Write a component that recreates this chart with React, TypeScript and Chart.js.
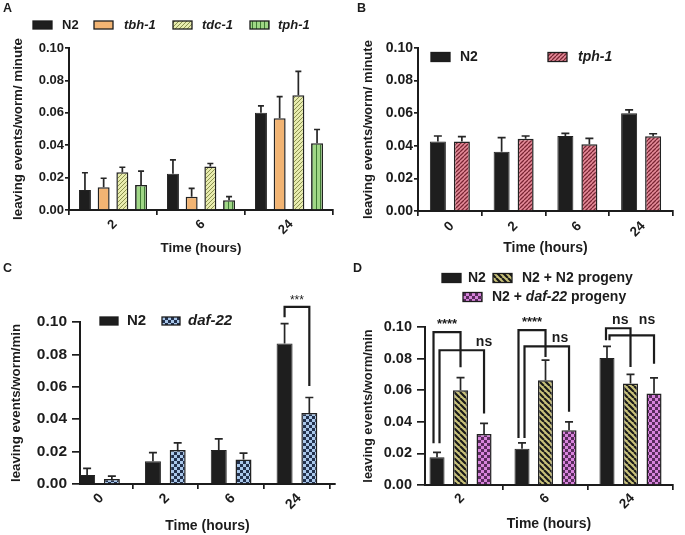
import React, { useEffect, useRef } from "react";
import { Chart, registerables } from "chart.js";
Chart.register(...registerables);

const FONT = "'Liberation Sans', Arial, Helvetica, sans-serif";
const INK = "#1c1c1c";
Chart.defaults.font.family = FONT;
Chart.defaults.color = INK;

// ---------- Panel A ----------
const timesA = ["2", "6", "24"];
const namesA = ["N2", "tbh-1", "tdc-1", "tph-1"];
const aN2 = [0.0124, 0.0223, 0.06];
const aN2Err = [0.0106, 0.0087, 0.0043];
const aTbh = [0.014, 0.0082, 0.0567];
const aTbhErr = [0.0056, 0.0052, 0.0133];
const aTdc = [0.0233, 0.0268, 0.0709];
const aTdcErr = [0.0031, 0.0019, 0.0147];
const aTph = [0.0155, 0.006, 0.0412];
const aTphErr = [0.0085, 0.0022, 0.0085];

// ---------- Panel B ----------
const timesB = ["0", "2", "6", "24"];
const namesB = ["N2", "tph-1"];
const bN2 = [0.0427, 0.0363, 0.046, 0.06];
const bN2Err = [0.0033, 0.0087, 0.0016, 0.002];
const bTph = [0.0427, 0.0444, 0.0409, 0.0458];
const bTphErr = [0.0029, 0.0016, 0.0037, 0.0016];

// ---------- Panel C ----------
const timesC = ["0", "2", "6", "24"];
const namesC = ["N2", "daf-22"];
const cN2 = [0.0056, 0.014, 0.021, 0.0867];
const cN2Err = [0.0041, 0.0054, 0.0069, 0.0123];
const cDaf = [0.0031, 0.021, 0.0151, 0.0439];
const cDafErr = [0.0017, 0.0044, 0.0039, 0.0095];

// ---------- Panel D ----------
const timesD = ["2", "6", "24"];
const namesD = ["N2", "N2 + N2 progeny", "N2 + daf-22 progeny"];
const dN2 = [0.0175, 0.023, 0.0804];
const dN2Err = [0.0031, 0.0037, 0.0074];
const dN2Prog = [0.06, 0.0663, 0.0642];
const dN2ProgErr = [0.008, 0.0127, 0.0058];
const dDafProg = [0.0322, 0.0347, 0.0579];
const dDafProgErr = [0.0068, 0.0053, 0.0099];

// significance annotations (values in y units)
const bracketsC = [
  { cat: 3, from: 0, to: 1, top: 0.1093, leftEnd: 0.103, rightEnd: 0.0605, label: "***", labelY: 0.111 },
];
const bracketsD = [
  { cat: 0, from: 0, to: 1, top: 0.0968, leftEnd: 0.0265, rightEnd: 0.0745, label: "****", labelY: 0.0995 },
  { cat: 0, from: 0, to: 2, top: 0.0853, leftEnd: 0.0265, rightEnd: 0.0453, label: "ns", labelY: 0.0881 },
  { cat: 1, from: 0, to: 1, top: 0.098, leftEnd: 0.0297, rightEnd: 0.081, label: "****", labelY: 0.1004 },
  { cat: 1, from: 0, to: 2, top: 0.0878, leftEnd: 0.0297, rightEnd: 0.0463, label: "ns", labelY: 0.0903 },
  { cat: 2, from: 0, to: 1, top: 0.0992, leftEnd: 0.0916, rightEnd: 0.0747, label: "ns", labelY: 0.102 },
  { cat: 2, from: 0, to: 2, top: 0.0947, leftEnd: 0.0916, rightEnd: 0.0768, label: "ns", labelY: 0.102 },
];

function makePattern(kind: string, bg: string, fg: string, p: number, lw: number): any {
  const c = document.createElement("canvas");
  const w = kind === "check" ? p * 2 : p;
  c.width = w;
  c.height = w;
  const g = c.getContext("2d")!;
  g.fillStyle = bg;
  g.fillRect(0, 0, w, w);
  g.strokeStyle = fg;
  g.fillStyle = fg;
  g.lineWidth = lw;
  if (kind === "fwd") {
    g.beginPath();
    for (const o of [-p, 0, p]) { g.moveTo(o, p); g.lineTo(o + p, 0); }
    g.stroke();
  } else if (kind === "back") {
    g.beginPath();
    for (const o of [-p, 0, p]) { g.moveTo(o, 0); g.lineTo(o + p, p); }
    g.stroke();
  } else if (kind === "vert") {
    g.fillRect(0, 0, lw, w);
  } else if (kind === "check") {
    g.fillRect(0, 0, p, p);
    g.fillRect(p, p, p, p);
  }
  return g.createPattern(c, "repeat");
}

type Seg = { t: string; i?: boolean };
type LegItem = { sx: number; tx: number; cy: number; segs: Seg[] };

function italicName(n: string): Seg[] {
  if (n === "N2") return [{ t: n }];
  if (n.includes("daf-22 progeny")) return [{ t: "N2 + " }, { t: "daf-22", i: true }, { t: " progeny" }];
  if (n.includes("progeny")) return [{ t: n }];
  return [{ t: n, i: true }];
}

function Panel(props: any) {
  const ref = useRef<HTMLCanvasElement>(null);
  useEffect(() => {
    const cfg = props.cfg();
    const { width, height, area } = cfg;
    const series = cfg.series;
    const plugin = {
      id: "extras" + cfg.letter,
      afterDatasetsDraw(chart: any) {
        const ctx = chart.ctx;
        const ys = chart.scales.y;
        ctx.save();
        ctx.strokeStyle = "#262626";
        ctx.lineWidth = 1.7;
        series.forEach((s: any, d: number) => {
          const meta = chart.getDatasetMeta(d);
          meta.data.forEach((el: any, i: number) => {
            const yE = ys.getPixelForValue(s.values[i] + s.err[i]);
            ctx.beginPath();
            ctx.moveTo(el.x, el.y);
            ctx.lineTo(el.x, yE);
            ctx.moveTo(el.x - cfg.capW / 2, yE);
            ctx.lineTo(el.x + cfg.capW / 2, yE);
            ctx.stroke();
          });
        });
        // brackets
        ctx.lineWidth = 2.2;
        ctx.strokeStyle = INK;
        ctx.fillStyle = INK;
        (cfg.brackets || []).forEach((b: any, k: number) => {
          const lEl = chart.getDatasetMeta(b.from).data[b.cat];
          const rEl = chart.getDatasetMeta(b.to).data[b.cat];
          const st = cfg.bracketStyle[k];
          const lx = lEl.x + st.lDx;
          const rx = rEl.x;
          const yT = ys.getPixelForValue(b.top);
          ctx.beginPath();
          ctx.moveTo(lx, ys.getPixelForValue(b.leftEnd));
          ctx.lineTo(lx, yT);
          ctx.lineTo(rx, yT);
          ctx.lineTo(rx, ys.getPixelForValue(b.rightEnd));
          ctx.stroke();
          ctx.font = st.font;
          ctx.textAlign = "center";
          ctx.textBaseline = "alphabetic";
          const lxT = st.anchor === "right" ? rx + st.dx : (lx + rx) / 2 + st.dx;
          ctx.fillText(b.label, lxT, ys.getPixelForValue(b.labelY));
        });
        ctx.restore();
      },
      afterDraw(chart: any) {
        const ctx = chart.ctx;
        const xs = chart.scales.x;
        ctx.save();
        ctx.fillStyle = INK;
        // x tick labels, rotated
        ctx.font = `bold ${cfg.xTickSize}px ${FONT}`;
        ctx.textAlign = "right";
        ctx.textBaseline = "middle";
        cfg.categories.forEach((lab: string, i: number) => {
          const px = xs.getPixelForValue(i);
          ctx.save();
          ctx.translate(px + cfg.xTickDx, chart.chartArea.bottom + cfg.xTickDy);
          ctx.rotate(-Math.PI / 4);
          ctx.fillText(lab, 0, 0);
          ctx.restore();
        });
        // legend
        cfg.legend.items.forEach((it: LegItem, k: number) => {
          const s = series[k];
          ctx.fillStyle = s.fill;
          ctx.fillRect(it.sx, it.cy - cfg.legend.sh / 2, cfg.legend.sw, cfg.legend.sh);
          ctx.strokeStyle = INK;
          ctx.lineWidth = 1.3;
          ctx.strokeRect(it.sx, it.cy - cfg.legend.sh / 2, cfg.legend.sw, cfg.legend.sh);
          ctx.fillStyle = INK;
          ctx.textAlign = "left";
          ctx.textBaseline = "middle";
          let x = it.tx;
          it.segs.forEach((sg) => {
            ctx.font = `${sg.i ? "italic " : ""}bold ${cfg.legend.size}px ${FONT}`;
            ctx.fillText(sg.t, x, it.cy);
            x += ctx.measureText(sg.t).width;
          });
        });
        // panel letter
        ctx.font = `bold 12.5px ${FONT}`;
        ctx.textAlign = "left";
        ctx.textBaseline = "alphabetic";
        ctx.fillText(cfg.letter, cfg.letterX, 12);
        ctx.restore();
      },
    };
    const chart = new Chart(ref.current!, {
      type: "bar",
      data: {
        datasets: series.map((s: any) => ({
          label: s.name,
          data: s.values.map((v: number, i: number) => ({ x: i, y: v })),
          backgroundColor: s.fill,
          borderColor: "#222222",
          borderWidth: s.bw,
          categoryPercentage: cfg.catPct,
          barPercentage: cfg.barPct,
        })),
      },
      options: {
        responsive: false,
        animation: false,
        devicePixelRatio: 1,
        layout: { padding: { left: 0, top: area.top, right: width - area.right, bottom: 0 } },
        plugins: { legend: { display: false }, tooltip: { enabled: false } },
        scales: {
          x: {
            type: "linear",
            min: cfg.xMin,
            max: cfg.xMax,
            bounds: "data",
            offset: false,
            grid: { display: true, drawOnChartArea: false, drawTicks: true, tickLength: 5, color: INK, lineWidth: 1.7 },
            border: { display: true, color: INK, width: 2 },
            ticks: { display: false },
            afterBuildTicks: (s: any) => { s.ticks = cfg.categories.map((_: string, i: number) => ({ value: i })); },
            afterFit: (s: any) => { s.height = height - area.bottom; },
            title: {
              display: true,
              text: "Time (hours)",
              color: INK,
              font: { family: FONT, size: cfg.xTitleSize, weight: "bold" },
              padding: { top: 0, bottom: height - cfg.xTitleY - cfg.xTitleSize * 0.6 },
            },
          },
          y: {
            min: 0,
            max: 0.1,
            ticks: {
              stepSize: 0.02,
              callback: (v: any) => Number(v).toFixed(2),
              color: INK,
              font: { family: FONT, size: cfg.yTickSize, weight: "bold" },
              padding: cfg.yTickPad,
            },
            grid: { display: true, drawOnChartArea: false, drawTicks: true, tickLength: cfg.yTickLen, color: INK, lineWidth: 1.7 },
            border: { display: true, color: INK, width: 2 },
            afterFit: (s: any) => { s.width = area.left; },
            title: {
              display: true,
              text: cfg.yTitle,
              color: INK,
              font: { family: FONT, size: cfg.yTitleSize, weight: "bold" },
              padding: { top: cfg.yTitleX - cfg.yTitleSize * 0.6, bottom: 0 },
            },
          },
        },
      },
      plugins: [plugin],
    } as any);
    return () => chart.destroy();
  }, []);
  const c = props.box;
  return (
    <canvas
      ref={ref}
      width={c.width}
      height={c.height}
      style={{ position: "absolute", left: c.left, top: c.top, width: c.width, height: c.height }}
    />
  );
}

const N2FILL = "#1e1e1e";

const cfgA = () => ({
  letter: "A", letterX: 3, width: 340, height: 260,
  area: { left: 69, right: 333, top: 48, bottom: 210 },
  categories: timesA, xMin: -0.5, xMax: 2.5, catPct: 0.85, barPct: 0.64, capW: 6,
  series: [
    { name: namesA[0], values: aN2, err: aN2Err, fill: N2FILL, bw: 1 },
    { name: namesA[1], values: aTbh, err: aTbhErr, fill: "#F2B473", bw: 1.5 },
    { name: namesA[2], values: aTdc, err: aTdcErr, fill: makePattern("fwd", "#E8ECAE", "#8C9250", 4, 1), bw: 1.5 },
    { name: namesA[3], values: aTph, err: aTphErr, fill: makePattern("vert", "#A0D786", "#3F7B33", 4, 1), bw: 1.5 },
  ],
  yTitle: "leaving events/worm/ minute", yTitleX: 18, yTitleSize: 13.3,
  xTitleY: 248, xTitleSize: 13.4, yTickSize: 13, yTickLen: 4, yTickPad: 1,
  xTickSize: 13, xTickDx: 2, xTickDy: 12,
  legend: {
    size: 13, sw: 19, sh: 8,
    items: namesA.map((n, k) => ({ sx: [33, 94, 173, 250][k], tx: [62, 124, 202, 278][k], cy: 25, segs: italicName(n) })),
  },
});

const cfgB = () => ({
  letter: "B", letterX: 17, width: 345, height: 260,
  area: { left: 78, right: 333, top: 48, bottom: 211 },
  categories: timesB, xMin: -0.5, xMax: 3.5, catPct: 0.753, barPct: 0.667, capW: 8,
  series: [
    { name: namesB[0], values: bN2, err: bN2Err, fill: N2FILL, bw: 1 },
    { name: namesB[1], values: bTph, err: bTphErr, fill: makePattern("fwd", "#E68C9A", "#7A2634", 4, 1.3), bw: 1.5 },
  ],
  yTitle: "leaving events/worm/ minute", yTitleX: 28, yTitleSize: 13.1,
  xTitleY: 248, xTitleSize: 14, yTickSize: 14, yTickLen: 4, yTickPad: 1,
  xTickSize: 13.5, xTickDx: 2, xTickDy: 13,
  legend: {
    size: 14, sw: 19, sh: 9,
    items: namesB.map((n, k) => ({ sx: [91, 208][k], tx: [120, 238][k], cy: 57, segs: italicName(n) })),
  },
});

const cfgC = () => ({
  letter: "C", letterX: 3, width: 340, height: 275,
  area: { left: 80, right: 335, top: 62, bottom: 224 },
  categories: timesC, xMin: -0.296, xMax: 3.578, catPct: 0.752, barPct: 0.646, capW: 8,
  series: [
    { name: namesC[0], values: cN2, err: cN2Err, fill: N2FILL, bw: 1 },
    { name: namesC[1], values: cDaf, err: cDafErr, fill: makePattern("check", "#A9C7EA", "#23324E", 3, 1), bw: 1.5 },
  ],
  brackets: bracketsC,
  bracketStyle: [{ lDx: 0, anchor: "center", dx: 0, font: `12px ${FONT}` }],
  yTitle: "leaving events/worm/min", yTitleX: 16, yTitleSize: 13.3,
  xTitleY: 266, xTitleSize: 14, yTickSize: 15.5, yTickLen: 8, yTickPad: 5,
  xTickSize: 14, xTickDx: 2, xTickDy: 12,
  legend: {
    size: 15, sw: 18, sh: 8,
    items: namesC.map((n, k) => ({ sx: [100, 162][k], tx: [127, 188][k], cy: 61, segs: italicName(n) })),
  },
});

const cfgD = () => ({
  letter: "D", letterX: 13, width: 345, height: 275,
  area: { left: 85, right: 333, top: 67, bottom: 225 },
  categories: timesD, xMin: -0.418, xMax: 2.5, catPct: 0.83, barPct: 0.64, capW: 8,
  series: [
    { name: namesD[0], values: dN2, err: dN2Err, fill: N2FILL, bw: 1 },
    { name: namesD[1], values: dN2Prog, err: dN2ProgErr, fill: makePattern("back", "#C9C27A", "#1a1a1a", 6, 2.2), bw: 1.5 },
    { name: namesD[2], values: dDafProg, err: dDafProgErr, fill: makePattern("check", "#D884DC", "#5A2C5E", 3, 1), bw: 1.5 },
  ],
  brackets: bracketsD,
  bracketStyle: [
    { lDx: -3.5, anchor: "center", dx: 0, font: `bold 13px ${FONT}` },
    { lDx: 2.5, anchor: "right", dx: 0, font: `bold 14px ${FONT}` },
    { lDx: -3.5, anchor: "center", dx: 0, font: `bold 13px ${FONT}` },
    { lDx: 2.5, anchor: "right", dx: -9, font: `bold 14px ${FONT}` },
    { lDx: -1, anchor: "center", dx: 2, font: `bold 14px ${FONT}` },
    { lDx: 2.5, anchor: "right", dx: -7, font: `bold 14px ${FONT}` },
  ],
  yTitle: "leaving events/worm/min", yTitleX: 28, yTitleSize: 12.9,
  xTitleY: 264, xTitleSize: 14, yTickSize: 14.5, yTickLen: 8, yTickPad: 5,
  xTickSize: 13.5, xTickDx: 2, xTickDy: 11,
  legend: {
    size: 14, sw: 19, sh: 9,
    items: namesD.map((n, k) => ({ sx: [102, 153, 123][k], tx: [128, 182, 152][k], cy: [18, 18, 37][k], segs: italicName(n) })),
  },
});

export default function App() {
  return (
    <div style={{ position: "absolute", left: 0, top: 0, width: 685, height: 535, background: "#ffffff", overflow: "hidden" }}>
      <Panel cfg={cfgA} box={{ left: 0, top: 0, width: 340, height: 260 }} />
      <Panel cfg={cfgB} box={{ left: 340, top: 0, width: 345, height: 260 }} />
      <Panel cfg={cfgC} box={{ left: 0, top: 260, width: 340, height: 275 }} />
      <Panel cfg={cfgD} box={{ left: 340, top: 260, width: 345, height: 275 }} />
    </div>
  );
}
